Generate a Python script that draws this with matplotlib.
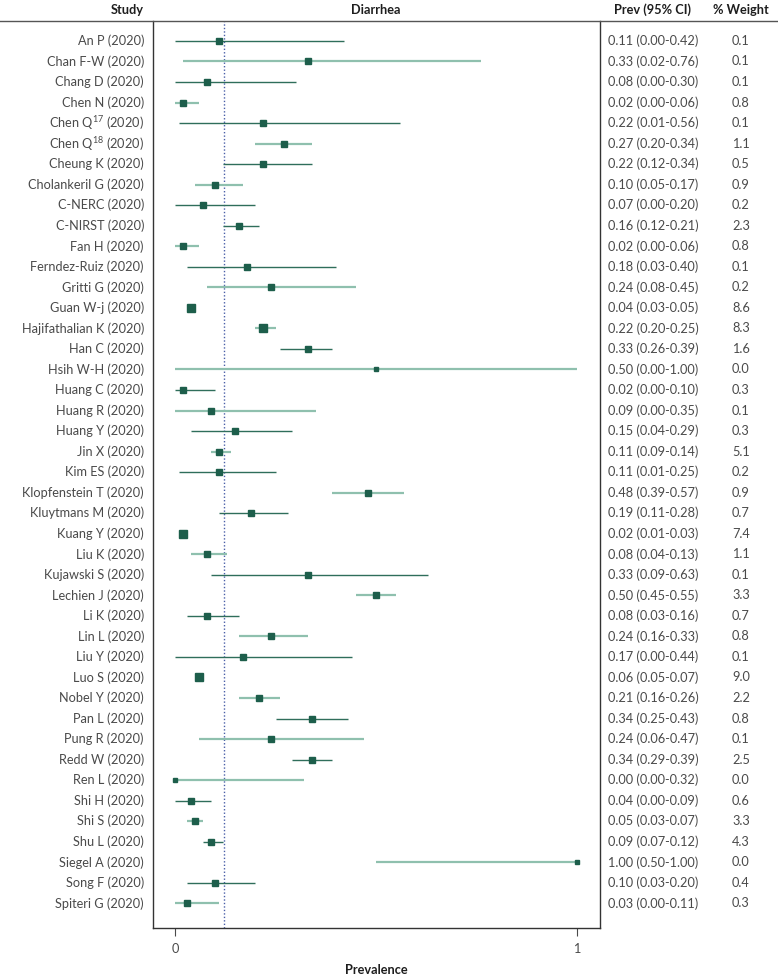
import matplotlib.pyplot as plt
import numpy as np

plt.rcParams['font.family'] = ['Lato', 'DejaVu Sans']
plt.rcParams['mathtext.fontset'] = 'custom'
plt.rcParams['mathtext.rm'] = 'Lato'
plt.rcParams['mathtext.it'] = 'Lato'

# Study data
studies = ["An P", "Chan F-W", "Chang D", "Chen N", "Chen Q$^{17}$", "Chen Q$^{18}$",
           "Cheung K", "Cholankeril G", "C-NERC", "C-NIRST", "Fan H", "Ferndez-Ruiz",
           "Gritti G", "Guan W-j", "Hajifathalian K", "Han C", "Hsih W-H", "Huang C",
           "Huang R", "Huang Y", "Jin X", "Kim ES", "Klopfenstein T", "Kluytmans M",
           "Kuang Y", "Liu K", "Kujawski S", "Lechien J", "Li K", "Lin L", "Liu Y",
           "Luo S", "Nobel Y", "Pan L", "Pung R", "Redd W", "Ren L", "Shi H", "Shi S",
           "Shu L", "Siegel A", "Song F", "Spiteri G"]
years = [2020] * len(studies)
prev = [0.11, 0.33, 0.08, 0.02, 0.22, 0.27, 0.22, 0.10, 0.07, 0.16, 0.02, 0.18, 0.24,
        0.04, 0.22, 0.33, 0.50, 0.02, 0.09, 0.15, 0.11, 0.11, 0.48, 0.19, 0.02, 0.08,
        0.33, 0.50, 0.08, 0.24, 0.17, 0.06, 0.21, 0.34, 0.24, 0.34, 0.00, 0.04, 0.05,
        0.09, 1.00, 0.10, 0.03]
ci_low = [0.00, 0.02, 0.00, 0.00, 0.01, 0.20, 0.12, 0.05, 0.00, 0.12, 0.00, 0.03, 0.08,
          0.03, 0.20, 0.26, 0.00, 0.00, 0.00, 0.04, 0.09, 0.01, 0.39, 0.11, 0.01, 0.04,
          0.09, 0.45, 0.03, 0.16, 0.00, 0.05, 0.16, 0.25, 0.06, 0.29, 0.00, 0.00, 0.03,
          0.07, 0.50, 0.03, 0.00]
ci_high = [0.42, 0.76, 0.30, 0.06, 0.56, 0.34, 0.34, 0.17, 0.20, 0.21, 0.06, 0.40, 0.45,
           0.05, 0.25, 0.39, 1.00, 0.10, 0.35, 0.29, 0.14, 0.25, 0.57, 0.28, 0.03, 0.13,
           0.63, 0.55, 0.16, 0.33, 0.44, 0.07, 0.26, 0.43, 0.47, 0.39, 0.32, 0.09, 0.07,
           0.12, 1.00, 0.20, 0.11]
weight = [0.1, 0.1, 0.1, 0.8, 0.1, 1.1, 0.5, 0.9, 0.2, 2.3, 0.8, 0.1, 0.2, 8.6, 8.3, 1.6,
          0.0, 0.3, 0.1, 0.3, 5.1, 0.2, 0.9, 0.7, 7.4, 1.1, 0.1, 3.3, 0.7, 0.8, 0.1, 9.0,
          2.2, 0.8, 0.1, 2.5, 0.0, 0.6, 3.3, 4.3, 0.0, 0.4, 0.3]
pooled = 0.122

# which CI lines are drawn in the pale shade
pale = [0, 1, 0, 1, 0, 1, 0, 1, 0, 0, 1, 0, 1, 0, 1, 0, 1, 0, 1, 0, 1, 0,
        1, 0, 0, 1, 0, 1, 0, 1, 0, 0, 1, 0, 1, 0, 1, 0, 1, 0, 1, 0, 1]

dark = "#1d5e4b"
line_dark = "#2f6e5b"
line_light = "#8fc0ae"
text_col = "#4a4a4a"
head_col = "#1e1e1e"
fs = 9.2

fig = plt.figure(figsize=(7.78, 9.76), dpi=100)
ax = fig.add_axes([153 / 778, 1 - 928 / 976, 447 / 778, 907 / 976])

n = len(studies)
for i in range(n):
    col = line_light if pale[i] else line_dark
    lw = 1.6 if pale[i] else 1.0
    ax.plot([ci_low[i], ci_high[i]], [i, i], color=col, lw=lw, solid_capstyle='butt', zorder=2)
    ms = (5 + 0.32 * weight[i]) * 0.72
    ax.plot(prev[i], i, marker='s', ms=ms, color=dark, mec=dark, zorder=3)

ax.axvline(pooled, color="#4a5fa8", lw=1.0, ls=(0, (1, 1.5)), zorder=1)

ax.set_xlim(-0.0547, 1.057)
ax.set_ylim(43.2, -0.97)
ax.set_yticks([])
ax.set_xticks([0, 1])
ax.set_xticklabels(["0", "1"], color=text_col, fontsize=fs)
ax.tick_params(axis='x', length=6, color=text_col, pad=5)
ax.spines['top'].set_visible(False)
for s in ['left', 'right', 'bottom']:
    ax.spines[s].set_color("#333333")
    ax.spines[s].set_linewidth(1.0)
ax.set_xlabel("Prevalence", fontweight='bold', fontsize=fs, color=head_col, labelpad=6)

# Header line and headers
fig.add_artist(plt.Line2D([0, 1], [1 - 21 / 976, 1 - 21 / 976], color="#555555", lw=1.0,
                          transform=fig.transFigure))
hy = 1 - 10 / 976
fig.text(144 / 778, hy, "Study", ha='right', va='center', fontweight='bold', fontsize=fs, color=head_col)
fig.text(376 / 778, hy, "Diarrhea", ha='center', va='center', fontweight='bold', fontsize=fs, color=head_col)
fig.text(652 / 778, hy, "Prev (95% CI)", ha='center', va='center', fontweight='bold', fontsize=fs, color=head_col)
fig.text(741 / 778, hy, "% Weight", ha='center', va='center', fontweight='bold', fontsize=fs, color=head_col)

# Row labels
for i in range(n):
    y_disp = ax.transData.transform((0, i))[1]
    yf = y_disp / fig.bbox.height
    fig.text(144 / 778, yf, f"{studies[i]} ({years[i]})", ha='right', va='center',
             fontsize=fs, color=text_col)
    fig.text(608 / 778, yf, f"{prev[i]:.2f} ({ci_low[i]:.2f}-{ci_high[i]:.2f})", ha='left',
             va='center', fontsize=fs, color=text_col)
    fig.text(741 / 778, yf, f"{weight[i]:.1f}", ha='center', va='center', fontsize=fs, color=text_col)

fig.savefig("out.png", dpi=100)
